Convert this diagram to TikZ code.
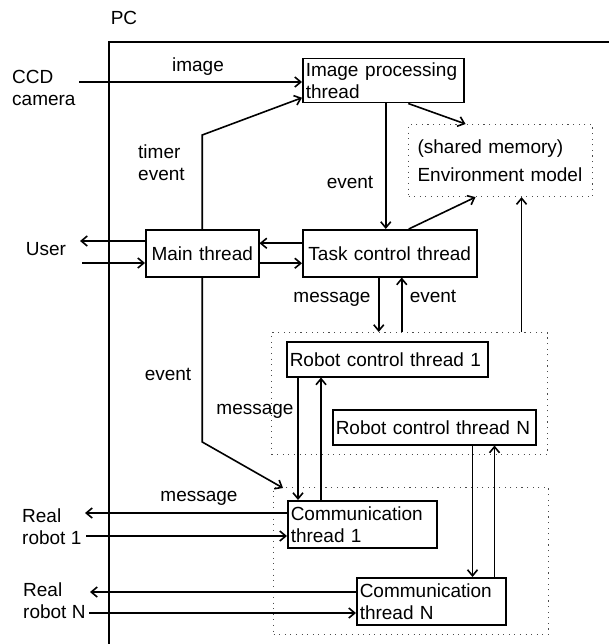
\documentclass[tikz,border=0pt]{standalone}
\usepackage{fontspec}
\setmainfont{Liberation Sans}
\usetikzlibrary{arrows.meta}

\begin{document}
\begin{tikzpicture}[
  x=1pt, y=-1pt,
  font=\fontsize{19}{22}\selectfont,
  thread/.style={draw, rectangle, line width=1.5pt, anchor=north west, inner xsep=3pt, inner ysep=0pt, align=left},
  group/.style={draw=black!70, line width=1.1pt, dash pattern=on 1.1pt off 4.5pt, rectangle, anchor=north west, inner sep=0pt},
  note/.style={inner sep=0pt, text height=1.5ex, text depth=.25ex},
  multi/.style={inner sep=0pt, anchor=west, align=left},
  arr/.style={line width=1.6pt, -{Straight Barb[length=6pt,width=10pt]}},
  pcline/.style={line width=2.8pt},
]
\useasboundingbox (0,0) rectangle (609,644);

% PC frame
\node (pc) [note] at (124,21) {PC};
\draw[pcline] (609,42) -- (109,42) -- (109,644);

% dotted groups
\node (env) [group, align=left, inner xsep=9pt, text width=166pt, minimum height=72pt] at (408,124) {(shared memory)\\[6pt]Environment model};
\node (robots) [group, minimum width=276pt, minimum height=122pt] at (271,332) {};
\node (comms) [group, minimum width=275pt, minimum height=147pt] at (273,487) {};

% threads
\node (img) [thread, text width=155pt, minimum height=44pt] at (302,58) {\mbox{Image\hspace{.35em}processing}\\thread};
\node (main) [thread, align=center, text width=107pt, minimum height=47pt] at (145,229) {Main thread};
\node (task) [thread, align=center, text width=168pt, minimum height=47pt] at (302,229) {Task control thread};
\node (rct1) [thread, text width=195pt, minimum height=35pt] at (286,341) {Robot control thread 1};
\node (rctN) [thread, text width=197pt, minimum height=35pt] at (332,409) {Robot control thread N};
\node (comm1) [thread, text width=143pt, minimum height=47pt] at (287,500) {Communication\\thread 1};
\node (commN) [thread, text width=143pt, minimum height=47pt] at (356,577) {Communication\\thread N};

% outside world
\node (ccd) [multi] at (12,88) {CCD\\camera};
\node (user) [note] at (46,252) {User};
\node (real1) [multi] at (22,527) {Real\\robot 1};
\node (realN) [multi] at (23,601) {Real\\robot N};

% labels
\node (image) [note] at (198,68) {image};
\node (timer) [multi] at (138,163) {timer\\event};
\node (ev1) [note] at (350,185) {event};
\node (msg1) [note] at (332,299) {message};
\node (ev2) [note] at (433,299) {event};
\node (ev3) [note] at (168,377) {event};
\node (msg2) [note] at (255,411) {message};
\node (msg3) [note] at (199,498) {message};

\coordinate (ccdin) at (79,82);
\coordinate (userout) at (80,241);
\coordinate (userin) at (82,263);
\coordinate (r1out) at (85,513);
\coordinate (r1in) at (86,536);
\coordinate (rNout) at (90,592);
\coordinate (rNin) at (89,613);
\coordinate (timerbend) at (200,135);
\coordinate (eventbend) at (200,442);

\draw[arr] (ccdin) -- (img.west |- ccdin);
\draw[arr] (main.west |- userout) -- (userout);
\draw[arr] (userin) -- (main.west |- userin);
\draw[arr] ([yshift=10pt]task.west) -- ([yshift=10pt]main.east);
\draw[arr] ([yshift=-10pt]main.east) -- ([yshift=-10pt]task.west);

\draw[arr] (main.north) -- (main.north |- timerbend) -- ([yshift=-17pt]img.west);
\draw[arr] (main.south) -- (main.south |- eventbend) -- ([xshift=-4pt,yshift=12pt]comm1.north west);

\draw[arr] ([xshift=2.5pt]img.south) -- ([xshift=2.5pt]img.south |- task.north);
\draw[arr] ([xshift=25pt]img.south) -- ([xshift=-35pt]env.north);
\draw[arr] ([xshift=19pt]task.north) -- ([xshift=-25pt]env.south);

\draw[arr] ([xshift=-11pt]task.south) -- ([xshift=-11pt]task.south |- robots.north);
\draw[arr] ([xshift=12pt]task.south |- robots.north) -- ([xshift=12pt]task.south);
\draw[arr] ([xshift=21pt]env.south |- robots.north) -- ([xshift=21pt]env.south);

\draw[arr] ([xshift=11pt]comm1.north west |- rct1.south) -- ([xshift=11pt]comm1.north west);
\draw[arr] ([xshift=34pt]comm1.north west) -- ([xshift=34pt]comm1.north west |- rct1.south);
\draw[arr] ([xshift=-34pt]commN.north east |- rctN.south) -- ([xshift=-34pt]commN.north east);
\draw[arr] ([xshift=-12pt]commN.north east) -- ([xshift=-12pt]commN.north east |- rctN.south);

\draw[arr] (comm1.west |- r1out) -- (r1out);
\draw[arr] (r1in) -- (comm1.west |- r1in);
\draw[arr] (commN.west |- rNout) -- (rNout);
\draw[arr] (rNin) -- (commN.west |- rNin);
\end{tikzpicture}
\end{document}
